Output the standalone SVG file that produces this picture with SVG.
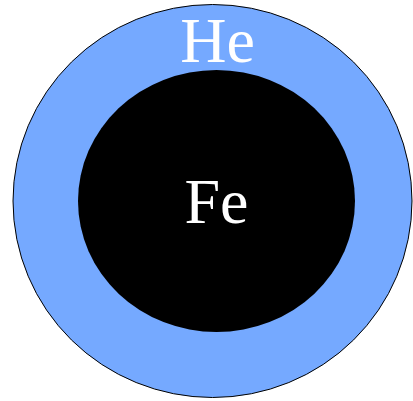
<svg xmlns="http://www.w3.org/2000/svg" width="413" height="401" viewBox="0 0 413 401">
<style>
text{font-family:'Liberation Serif',serif;font-size:64px;fill:#ffffff;text-anchor:middle}
</style>
<rect width="413" height="401" fill="#ffffff"/>
<g id="he">
<ellipse cx="212.5" cy="201" rx="199.5" ry="196.5" fill="#75a9ff" stroke="#000000" stroke-width="1"/>
<text x="217.5" y="62" font-family="Liberation Serif, serif">He</text>
</g>
<g id="fe">
<ellipse cx="216.5" cy="201" rx="138.5" ry="131" fill="#000000"/>
<text x="216.5" y="223" font-family="Liberation Serif, serif">Fe</text>
</g>
<g id="connectors"/>
</svg>
